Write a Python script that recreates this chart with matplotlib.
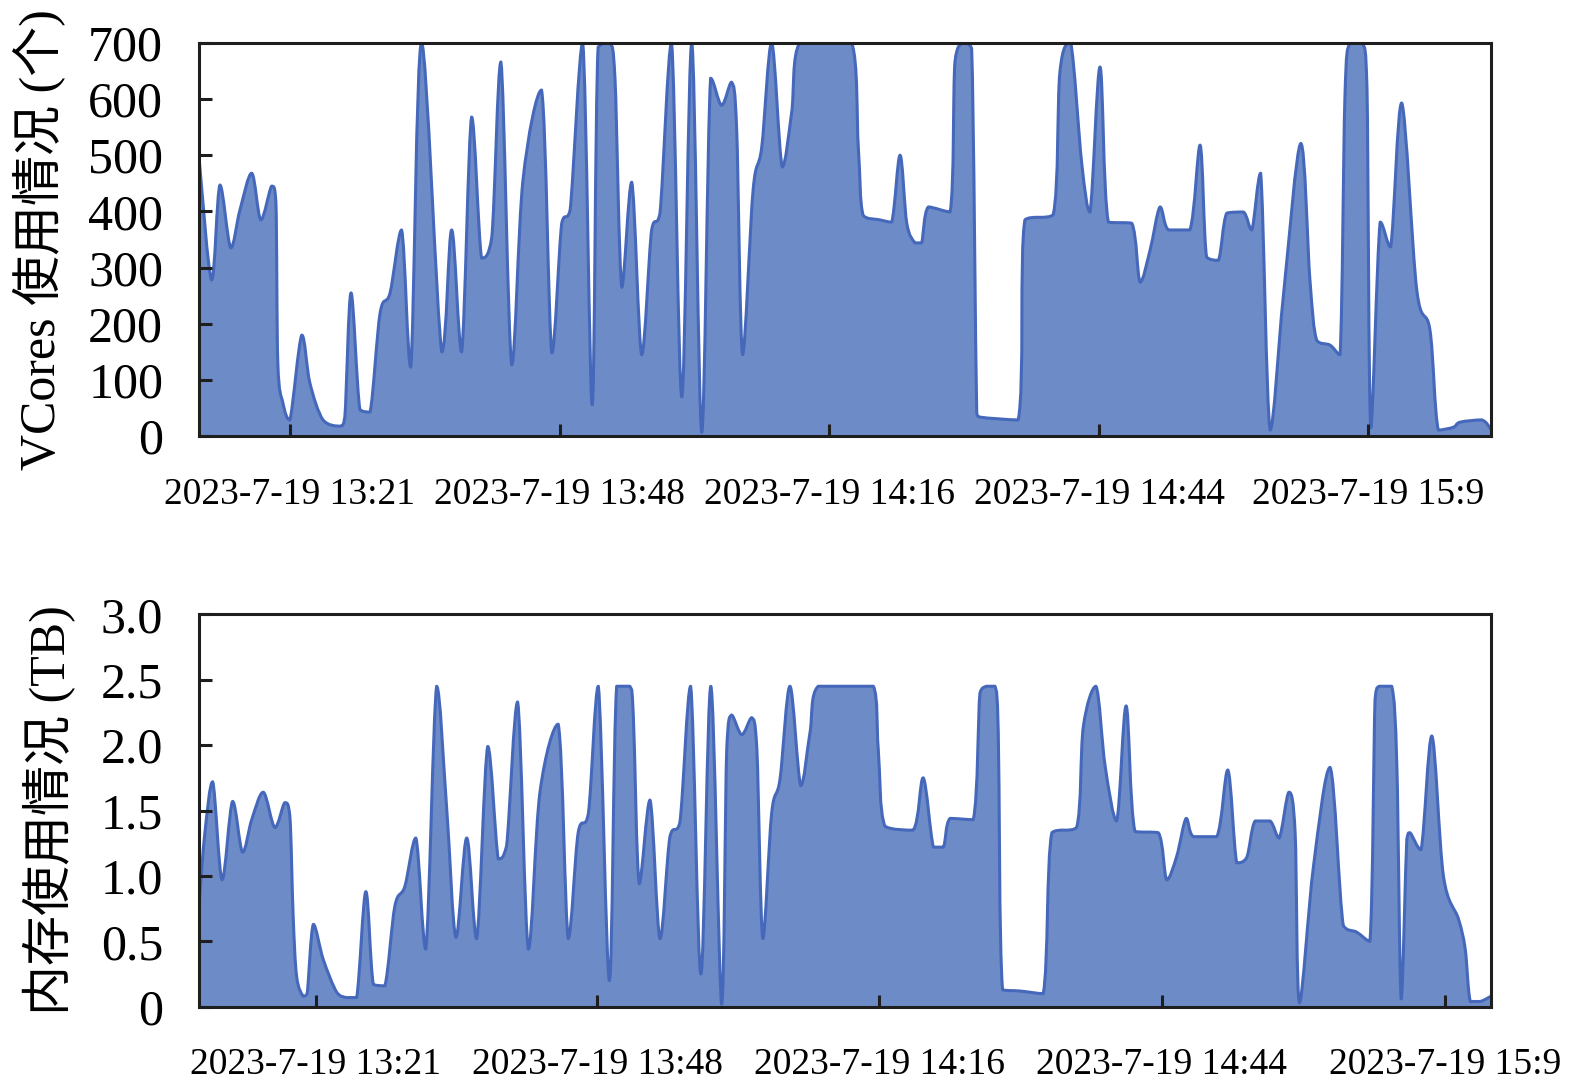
import matplotlib
matplotlib.use('Agg')
from matplotlib import pyplot as plt
from matplotlib.path import Path
from matplotlib.patches import PathPatch

plt.rcParams['font.family'] = ['Liberation Serif', 'Noto Sans CJK SC']

# x axis tick labels (sample index positions)
time_labels = ['2023-7-19 13:21', '2023-7-19 13:48', '2023-7-19 14:16',
               '2023-7-19 14:44', '2023-7-19 15:9']
vcores_ticks = [33.7, 134.0, 234.1, 334.4, 434.4]
mem_ticks = [43.3, 147.9, 252.7, 357.6, 462.9]

# VCores usage (count)
vcores_x = [0, 4.6, 7.7, 11.7, 15.1, 19.5, 22.9, 26.9, 28.5, 29.2,
            31.1, 33.7, 38.1, 41.1, 46.0, 52.3, 54.1, 56.4, 59.7, 63.5,
            67.2, 70.9, 75.2, 78.6, 82.6, 90.1, 93.8, 97.5, 101.2, 104.9,
            108.7, 112.1, 116.1, 120.3, 127.2, 131.0, 134.7, 137.8, 142.5, 146.0,
            148.2, 152.6, 154.5, 157.0, 160.7, 164.4, 168.1, 171.2, 175.5, 179.3,
            183.0, 186.7, 190.0, 194.1, 197.8, 199.7, 201.9, 205.8, 209.0, 212.7,
            216.6, 220.1, 223.2, 242.4, 244.9, 246.7, 252.9, 257.3, 260.4, 262.9,
            266.0, 268.4, 270.9, 279.0, 280.8, 283.9, 287.0, 288.9, 290.1, 304.3,
            306.8, 317.3, 319.8, 323.8, 327.9, 331.0, 334.7, 337.8, 346.5, 349.6,
            353.3, 357.0, 360.1, 368.1, 371.9, 374.3, 378.7, 381.8, 388.0, 391.1,
            394.4, 397.9, 402.8, 409.3, 412.7, 415.2, 420.2, 423.9, 425.7, 427.5,
            432.2, 433.9, 435.3, 438.8, 442.7, 446.8, 452.4, 457.3, 460.4, 466.0,
            468.5, 476.5, 480.0]
vcores = [491, 278, 447, 335, 402, 468, 385, 445, 415, 130,
          59, 29, 180, 95, 29, 18, 34, 255, 47, 43,
          219, 255, 367, 123, 700, 150, 367, 150, 568, 317,
          354, 666, 127, 456, 616, 148, 379, 402, 700, 56,
          692, 700, 635, 265, 452, 145, 367, 397, 700, 70,
          700, 7, 637, 589, 630, 545, 145, 438, 514, 700,
          479, 575, 700, 700, 514, 393, 385, 381, 500, 379,
          344, 344, 408, 399, 666, 700, 690, 41, 34, 29,
          385, 394, 648, 700, 486, 399, 657, 381, 379, 274,
          331, 408, 367, 367, 518, 319, 313, 397, 399, 367,
          468, 11, 248, 521, 278, 171, 162, 145, 603, 700,
          700, 620, 15, 381, 337, 593, 260, 189, 11, 16,
          25, 29, 12]

# memory usage (TB)
mem_x = [0, 2.1, 5.0, 8.5, 12.4, 16.1, 19.5, 23.8, 28.1, 31.8,
         33.7, 34.9, 36.2, 38.6, 40.1, 42.4, 46.1, 51.1, 54.8, 58.5,
         61.9, 64.7, 69.0, 72.7, 76.4, 80.5, 84.2, 88.2, 91.9, 95.4,
         99.4, 103.1, 107.2, 111.1, 114.2, 118.3, 122.3, 126.6, 133.4, 137.1,
         140.8, 144.6, 148.3, 152.4, 155.1, 160.0, 161.3, 163.5, 167.5, 171.2,
         174.9, 178.6, 182.6, 186.4, 190.1, 194.1, 196.0, 197.8, 201.6, 205.3,
         207.2, 209.4, 212.7, 215.8, 219.5, 223.5, 226.9, 230.0, 250.5, 252.3,
         254.8, 265.3, 269.0, 272.8, 276.5, 279.0, 287.6, 290.1, 292.6, 295.7,
         296.9, 298.5, 305.0, 313.6, 316.8, 326.0, 328.5, 333.2, 336.6, 340.9,
         344.4, 347.7, 356.4, 359.5, 363.2, 366.7, 369.4, 378.1, 382.2, 385.5,
         389.2, 392.3, 397.9, 401.3, 404.9, 407.2, 408.8, 414.0, 420.2, 425.1,
         430.1, 435.0, 436.9, 438.4, 443.1, 445.0, 446.6, 448.7, 449.9, 454.0,
         458.0, 462.3, 467.9, 470.4, 472.3, 476.0, 480.0]
mem = [0.80, 1.33, 1.72, 0.97, 1.57, 1.18, 1.43, 1.64, 1.37, 1.56,
       1.45, 0.69, 0.23, 0.08, 0.10, 0.63, 0.36, 0.11, 0.07, 0.07,
       0.88, 0.17, 0.16, 0.77, 0.92, 1.29, 0.44, 2.45, 1.53, 0.53,
       1.29, 0.52, 1.99, 1.13, 1.23, 2.33, 0.44, 1.64, 2.16, 0.52,
       1.33, 1.48, 2.45, 0.20, 2.45, 2.45, 2.22, 0.94, 1.58, 0.52,
       1.30, 1.41, 2.45, 0.25, 2.45, 0.02, 1.97, 2.23, 2.08, 2.21,
       1.97, 0.52, 1.48, 1.74, 2.45, 1.69, 2.09, 2.45, 2.45, 1.97,
       1.38, 1.35, 1.75, 1.22, 1.22, 1.44, 1.43, 2.40, 2.45, 2.45,
       2.09, 0.13, 0.12, 0.10, 1.33, 1.37, 2.14, 2.45, 1.84, 1.42,
       2.30, 1.34, 1.33, 0.97, 1.15, 1.44, 1.30, 1.30, 1.81, 1.10,
       1.14, 1.42, 1.42, 1.29, 1.64, 1.33, 0.03, 1.07, 1.83, 0.62,
       0.57, 0.50, 2.35, 2.45, 2.45, 1.84, 0.06, 1.28, 1.33, 1.20,
       2.07, 1.00, 0.67, 0.44, 0.04, 0.04, 0.08]

vcores_yticks = [0, 100, 200, 300, 400, 500, 600, 700]
mem_yticks = [0, 0.5, 1.0, 1.5, 2.0, 2.5, 3.0]
mem_yticklabels = ['0', '0.5', '1.0', '1.5', '2.0', '2.5', '3.0']

fill_color = '#6d8bc7'
line_color = '#4568bb'


def smooth_path(xs, ys):
    # bezier curve through the points, control points kept inside each
    # segment's box so it does not overshoot (like a smoothed echarts line)
    n = len(xs)
    verts = [(xs[0], ys[0])]
    codes = [Path.MOVETO]
    for i in range(n - 1):
        x0, y0 = xs[i], ys[i]
        x1, y1 = xs[i + 1], ys[i + 1]
        xp, yp = (xs[i - 1], ys[i - 1]) if i > 0 else (x0, y0)
        xn, yn = (xs[i + 2], ys[i + 2]) if i + 2 < n else (x1, y1)
        lo, hi = min(y0, y1), max(y0, y1)
        c1x = min(max(x0 + (x1 - xp) / 6, x0), x1)
        c1y = min(max(y0 + (y1 - yp) / 6, lo), hi)
        c2x = min(max(x1 - (xn - x0) / 6, x0), x1)
        c2y = min(max(y1 - (yn - y0) / 6, lo), hi)
        verts += [(c1x, c1y), (c2x, c2y), (x1, y1)]
        codes += [Path.CURVE4] * 3
    return verts, codes


def draw_area(ax, xs, ys):
    verts, codes = smooth_path(xs, ys)
    fill_verts = verts + [(xs[-1], 0), (xs[0], 0), (xs[0], ys[0])]
    fill_codes = codes + [Path.LINETO, Path.LINETO, Path.CLOSEPOLY]
    ax.add_patch(PathPatch(Path(fill_verts, fill_codes), facecolor=fill_color,
                           edgecolor='none'))
    ax.add_patch(PathPatch(Path(verts, codes), facecolor='none',
                           edgecolor=line_color, lw=2.2, joinstyle='round'))


def style_axes(ax, xpad):
    for s in ax.spines.values():
        s.set_linewidth(2.2)
        s.set_color('#1e1e1e')
        s.set_zorder(5)
    ax.tick_params(axis='both', direction='in', length=9, width=2.2,
                   color='#1e1e1e', top=False, right=False)
    ax.tick_params(axis='x', labelsize=27, pad=xpad)
    ax.tick_params(axis='y', labelsize=36, pad=26)


fig = plt.figure(figsize=(15.75, 10.9), dpi=100)
ax1 = fig.add_axes([0.1265, 0.5998, 0.8202, 0.3609])
ax2 = fig.add_axes([0.1265, 0.0764, 0.8202, 0.3600])

# top: VCores
draw_area(ax1, vcores_x, vcores)
ax1.set_xlim(0, 480)
ax1.set_ylim(0, 700)
ax1.set_yticks(vcores_yticks)
ax1.set_xticks(vcores_ticks)
ax1.set_xticklabels(time_labels)
ax1.set_ylabel('VCores 使用情况 (个)', fontsize=36)
ax1.yaxis.set_label_coords(-0.104, 0.5)
style_axes(ax1, 30)

# bottom: memory
draw_area(ax2, mem_x, mem)
ax2.set_xlim(0, 480)
ax2.set_ylim(0, 3.0)
ax2.set_yticks(mem_yticks)
ax2.set_yticklabels(mem_yticklabels)
ax2.set_xticks(mem_ticks)
ax2.set_xticklabels(time_labels)
ax2.set_ylabel('内存使用情况 (TB)', fontsize=36)
ax2.yaxis.set_label_coords(-0.095, 0.5)
style_axes(ax2, 29)

fig.savefig('out.png', dpi=100)
